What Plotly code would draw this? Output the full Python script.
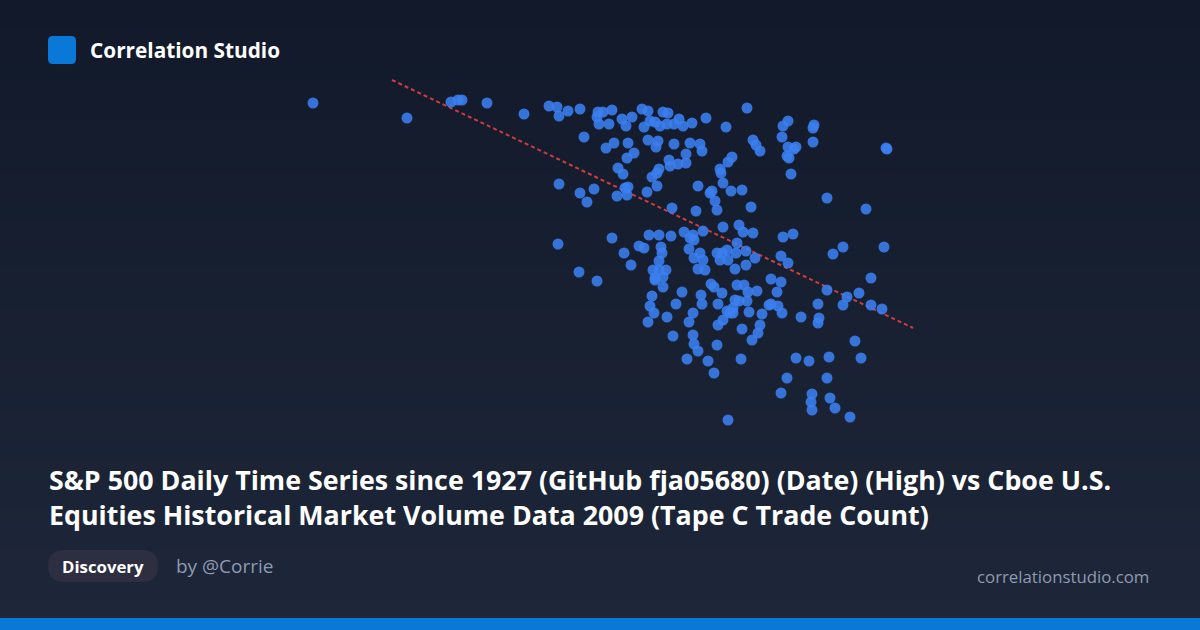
import plotly.graph_objects as go

# ---- data (x = Date/High measure, y = Tape C Trade Count, in chart units) ----
x_vals = [313, 407, 451, 458, 462, 487,
          524, 549, 557, 559, 568, 580, 584, 598, 597, 599, 559, 580, 594, 587,
          603, 612, 609, 622, 626, 632, 642, 648, 650, 655, 644, 660, 663, 668, 667, 674, 679, 683, 692, 706,
          606, 614, 628, 648, 658, 656, 674, 690, 700, 702, 634, 627, 669, 686, 670, 678, 686, 618, 623, 659,
          657, 652, 657, 628, 625, 617, 627, 647, 698,
          747, 726, 788, 783, 814, 813, 782, 753, 756, 760, 813, 788, 796, 794, 787, 789, 886, 887, 732, 728,
          720, 721, 791, 723, 712, 710, 731, 742, 715, 827, 751, 717, 866,
          558, 612, 649, 659, 639, 644, 624, 661, 662, 631, 659, 653, 659, 666, 655, 663, 579, 597, 671,
          672, 696, 739, 743, 753, 723, 684, 693, 690, 694, 703, 689, 700, 694, 703, 698, 705, 717, 722, 727,
          720, 728, 736, 737, 746, 735, 746, 755, 771,
          843, 833, 884, 783, 793, 781, 788, 781, 871,
          655, 663, 682, 652, 650, 654, 648, 676, 667, 701, 702, 693, 689, 711, 714, 722, 718, 737, 744, 748,
          757, 735, 739, 747, 733, 727, 730, 733, 749, 723, 718, 762, 760, 758, 742, 752, 673, 693, 694, 698,
          717, 687, 708, 741, 714, 769,
          777, 771, 778, 782, 801, 818, 819, 818, 827, 843, 847, 859, 871, 882, 855, 861, 796, 809, 829, 787,
          827, 781, 812, 811, 812, 830, 835, 850, 728]
y_vals = [103, 118, 102, 100, 100, 103,
          114, 106, 107, 116, 111, 109, 137, 112, 117, 124, 184, 193, 189, 202,
          112, 110, 124, 119, 126, 117, 109, 111, 121, 122, 127, 126, 112, 113, 124, 124, 119, 126, 123, 118,
          148, 143, 143, 140, 141, 147, 144, 143, 144, 151, 153, 158, 160, 154, 166, 164, 163, 168, 174, 169,
          173, 177, 186, 187, 188, 196, 195, 192, 186,
          108, 127, 121, 126, 125, 128, 137, 140, 145, 151, 142, 147, 147, 149, 156, 158, 148, 149, 157, 162,
          169, 173, 174, 183, 191, 193, 191, 190, 201, 198, 207, 210, 209,
          244, 238, 235, 235, 246, 248, 253, 247, 253, 265, 261, 270, 270, 270, 278, 277, 272, 281, 236,
          208, 211, 225, 232, 233, 227, 232, 235, 238, 240, 231, 249, 253, 258, 260, 269, 270, 253, 253, 250,
          260, 260, 253, 243, 251, 269, 265, 258, 279,
          247, 254, 247, 237, 234, 256, 263, 282, 278,
          280, 287, 292, 296, 306, 313, 322, 304, 317, 295, 304, 313, 322, 284, 287, 293, 304, 285, 285, 292,
          291, 300, 301, 301, 308, 311, 313, 313, 312, 320, 325, 314, 325, 333, 329, 340, 336, 335, 344, 351,
          345, 359, 361, 359, 373, 305,
          292, 304, 306, 313, 317, 304, 318, 323, 290, 305, 297, 293, 305, 309, 341, 358, 358, 361, 357, 378,
          378, 393, 394, 402, 410, 398, 408, 417, 420]

# fitted trend line endpoints (as drawn in the reference)
trend_x = [392, 913]
trend_y = [80, 328]

brand = "Correlation Studio"
title_lines = ["S&P 500 Daily Time Series since 1927 (GitHub fja05680) (Date) (High) vs Cboe U.S.",
               "Equities Historical Market Volume Data 2009 (Tape C Trade Count)"]
tag = "Discovery"
author = "by @Corrie"
site = "correlationstudio.com"

W, H = 1200, 630
fig = go.Figure()

# background vertical gradient
top = (17, 25, 42)
bot = (30, 39, 57)
n = 63
shapes = []
for i in range(n):
    t = i / (n - 1)
    c = tuple(round(top[k] + (bot[k] - top[k]) * t) for k in range(3))
    shapes.append(dict(type="rect", xref="paper", yref="paper", x0=0, x1=1,
                       y0=1 - (i + 1) / n, y1=1 - i / n + 0.001,
                       fillcolor="rgb(%d,%d,%d)" % c, line=dict(width=0), layer="below"))

def px(x):
    return x / W

def py(y):
    return 1 - y / H

def rounded(x0, y0, x1, y1, r):
    return (f"M {px(x0 + r)},{py(y0)} L {px(x1 - r)},{py(y0)} Q {px(x1)},{py(y0)} {px(x1)},{py(y0 + r)} "
            f"L {px(x1)},{py(y1 - r)} Q {px(x1)},{py(y1)} {px(x1 - r)},{py(y1)} "
            f"L {px(x0 + r)},{py(y1)} Q {px(x0)},{py(y1)} {px(x0)},{py(y1 - r)} "
            f"L {px(x0)},{py(y0 + r)} Q {px(x0)},{py(y0)} {px(x0 + r)},{py(y0)} Z")

# logo square
shapes.append(dict(type="path", xref="paper", yref="paper", path=rounded(48, 36, 76, 64, 5),
                   fillcolor="#0a78d6", line=dict(width=0)))
# pill
shapes.append(dict(type="path", xref="paper", yref="paper", path=rounded(48, 550, 158, 582, 16),
                   fillcolor="#2d2e3f", line=dict(width=0)))
# bottom bar
shapes.append(dict(type="rect", xref="paper", yref="paper", x0=0, x1=1, y0=0, y1=py(618),
                   fillcolor="#0a78d6", line=dict(width=0)))

fig.add_trace(go.Scatter(x=trend_x, y=trend_y, mode="lines",
                         line=dict(color="#cf3c40", width=2, dash="4px,3px"), hoverinfo="skip"))
fig.add_trace(go.Scatter(x=x_vals, y=y_vals, mode="markers",
                         marker=dict(size=11, color="#3b80f0", opacity=0.88, line=dict(width=0))))

font_b = "Open Sans"
ann = [
    dict(text="<b>%s</b>" % brand, x=px(88), y=py(50), xanchor="left", yanchor="middle",
         font=dict(family=font_b, size=20.8, color="#ffffff")),
    dict(text="<b>%s</b><br><b>%s</b>" % tuple(title_lines), x=px(47), y=py(497), xanchor="left",
         yanchor="middle", align="left", font=dict(family=font_b, size=26.8, color="#ffffff")),
    dict(text="<b>%s</b>" % tag, x=px(103), y=py(566), xanchor="center", yanchor="middle",
         font=dict(family=font_b, size=16.8, color="#ffffff")),
    dict(text=author, x=px(174), y=py(566), xanchor="left", yanchor="middle",
         font=dict(family=font_b, size=19, color="#8e9ab0")),
    dict(text=site, x=px(1151), y=py(576), xanchor="right", yanchor="middle",
         font=dict(family=font_b, size=16.8, color="#8e9ab0")),
]
for a in ann:
    a.update(xref="paper", yref="paper", showarrow=False)

fig.update_layout(
    width=W, height=H, margin=dict(l=0, r=0, t=0, b=0),
    paper_bgcolor="#141c2e", plot_bgcolor="rgba(0,0,0,0)",
    showlegend=False, shapes=shapes, annotations=ann,
    xaxis=dict(range=[0, W], visible=False, fixedrange=True),
    yaxis=dict(range=[H, 0], visible=False, fixedrange=True),
)
fig.write_html("out.html", config={"displayModeBar": False},
               post_script="document.body.style.margin='0';document.body.style.overflow='hidden';")
